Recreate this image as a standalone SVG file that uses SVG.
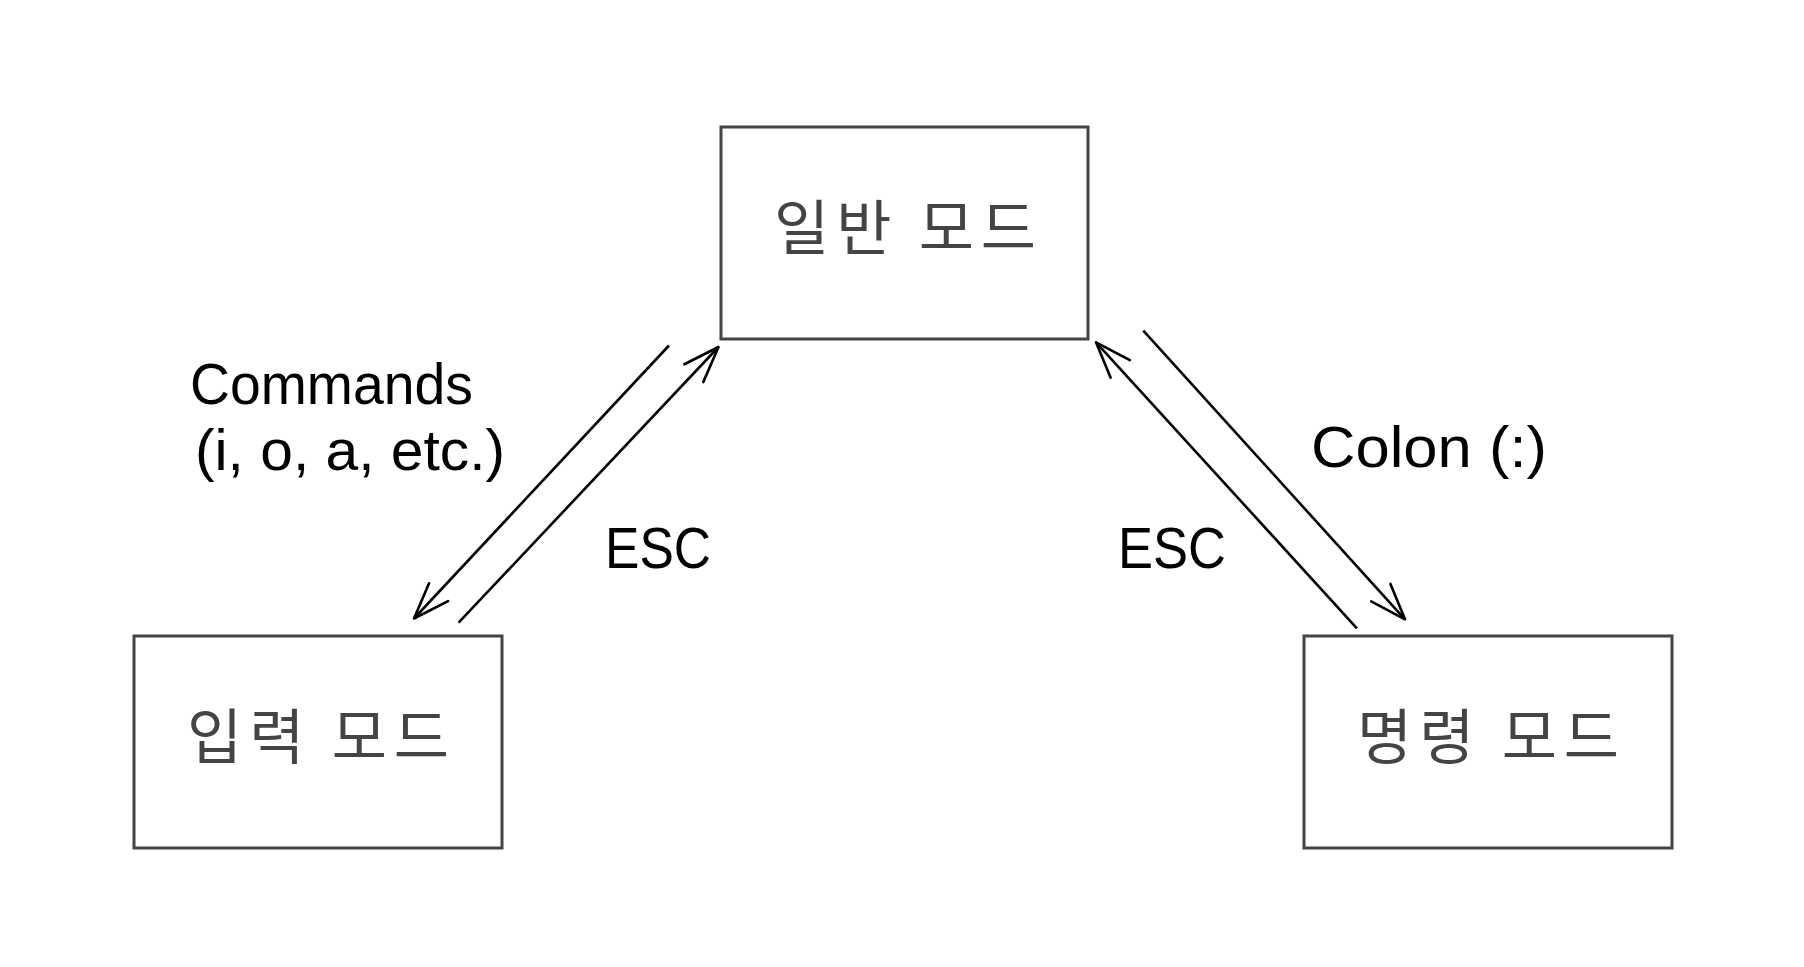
<svg xmlns="http://www.w3.org/2000/svg" width="1804" height="967" viewBox="0 0 1804 967">
<style>
.box{fill:#fff;stroke:#444;stroke-width:3}
.ko{font-family:"Noto Sans CJK KR","Noto Sans",sans-serif;font-size:60px;fill:#444;text-anchor:middle}
.lbl{font-family:"Liberation Sans","Noto Sans",sans-serif;font-size:58px;fill:#000}
.edge{stroke:#000;stroke-width:2.6;fill:none;marker-end:url(#arr)}
</style>
<defs>
<marker id="arr" markerUnits="userSpaceOnUse" viewBox="-40 -16 44 32" refX="0" refY="0" markerWidth="44" markerHeight="32" orient="auto" overflow="visible">
<path d="M -36 -13 L 0 0 L -36 13" fill="none" stroke="#000" stroke-width="2.6" stroke-linecap="round" stroke-linejoin="round"/>
</marker>
</defs>
<rect width="1804" height="967" fill="#fff"/>
<g id="normal">
<rect class="box" x="721" y="127" width="367" height="212"/>
<text class="ko" x="905" y="250" textLength="262" lengthAdjust="spacing">일반 모드</text>
</g>
<g id="insert">
<rect class="box" x="134" y="636" width="368" height="212"/>
<text class="ko" x="318" y="759" textLength="262" lengthAdjust="spacing">입력 모드</text>
</g>
<g id="command">
<rect class="box" x="1304" y="636" width="368" height="212"/>
<text class="ko" x="1488" y="759" textLength="262" lengthAdjust="spacing">명령 모드</text>
</g>
<g id="connectors">
<line class="edge" x1="669" y1="345.5" x2="414" y2="618.5"/>
<line class="edge" x1="458.6" y1="622.7" x2="718.5" y2="347"/>
<line class="edge" x1="1143.3" y1="330.7" x2="1405" y2="619.3"/>
<line class="edge" x1="1356.9" y1="628.3" x2="1096" y2="342.3"/>
</g>
<g id="labels">
<text class="lbl" x="190" y="404" textLength="283" lengthAdjust="spacingAndGlyphs">Commands</text>
<text class="lbl" x="195" y="470" textLength="310" lengthAdjust="spacingAndGlyphs">(i, o, a, etc.)</text>
<text class="lbl" x="605" y="568" textLength="106" lengthAdjust="spacingAndGlyphs">ESC</text>
<text class="lbl" x="1118" y="568" textLength="108" lengthAdjust="spacingAndGlyphs">ESC</text>
<text class="lbl" x="1311" y="467" textLength="236" lengthAdjust="spacingAndGlyphs">Colon (:)</text>
</g>
</svg>
